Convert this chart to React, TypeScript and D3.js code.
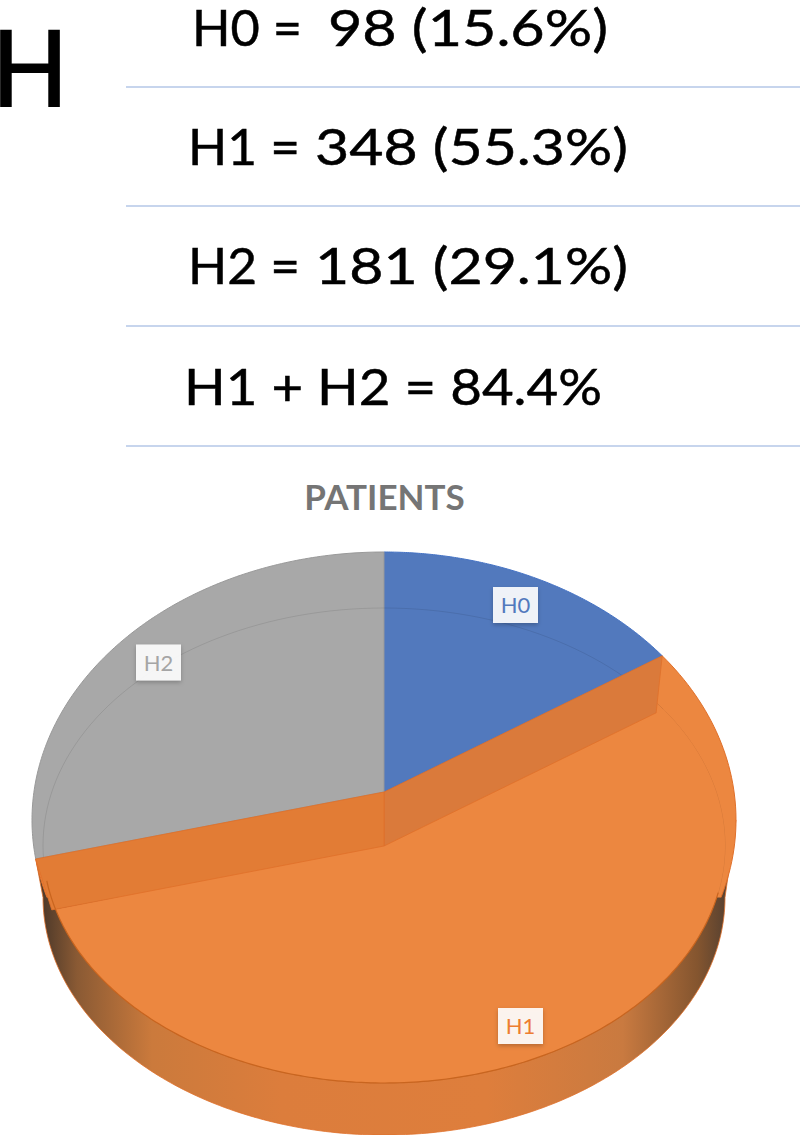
import React from "react";
import * as d3 from "d3";

const categories = ["H0", "H1", "H2"];
const shares = [15.6, 55.3, 29.1];
const counts = [98, 348, 181];
const rowLeft = ["H0 =", "H1 =", "H2 ="];
const rowRight = ["98 (15.6%)", "348 (55.3%)", "181 (29.1%)"];
const summaryText = "H1 + H2 = 84.4%";
const panelLetter = "H";
const chartTitle = "PATIENTS";

const FONT = "Lato, 'Open Sans', sans-serif";
const BLUE = "#5279BD";
const ORANGE = "#EC8740";
const GRAY = "#A8A8A8";
const CX = 384;
const K = 1.37;

type Geo = { py: number; ey: number; rx: number; ry: number };
const outer: Geo = { py: 792, ey: 820, rx: 352, ry: 268 };
const top1: Geo = { py: 846, ey: 845.5, rx: 341, ry: 237.5 };

const pie = d3.pie<number>().sort(null)(shares);

function ray(a: number, g: Geo): [number, number] {
  const dx = Math.sin(a) * K;
  const dy = -Math.cos(a);
  const o = g.py - g.ey;
  const A = (dx * dx) / (g.rx * g.rx) + (dy * dy) / (g.ry * g.ry);
  const B = (2 * o * dy) / (g.ry * g.ry);
  const C = (o * o) / (g.ry * g.ry) - 1;
  const t = (-B + Math.sqrt(B * B - 4 * A * C)) / (2 * A);
  return [CX + dx * t, g.py + dy * t];
}
const line = d3.line<[number, number]>();
function arcPts(a0: number, a1: number, g: Geo): [number, number][] {
  const s = d3.scaleLinear().domain([0, 150]).range([a0, a1]);
  return d3.range(151).map((i) => ray(s(i), g));
}
function slice(a0: number, a1: number, g: Geo): string {
  return line([[CX, g.py], ...arcPts(a0, a1, g)])! + "Z";
}
function ellipsePts(cy: number, rx: number, ry: number, t0: number, t1: number): [number, number][] {
  const s = d3.scaleLinear().domain([0, 200]).range([t0, t1]);
  return d3.range(201).map((i) => [CX + rx * Math.cos(s(i)), cy + ry * Math.sin(s(i))] as [number, number]);
}

const [p0, p1, p2] = pie;
function wall(angle: number, shrink: number): string {
  const c = ray(angle, outer);
  const inner: [number, number] = [
    CX + (c[0] - CX) * shrink,
    top1.py + (c[1] - outer.py) * shrink,
  ];
  return line([[CX, outer.py], c, inner, [CX, top1.py]])! + "Z";
}
const wallRight = wall(p1.startAngle, 0.978);
const wallLeft = wall(p1.endAngle, 0.954);
const RIM = 52;
const rimY = top1.ey + RIM;
const rim = line([
  [CX + outer.rx, outer.ey],
  ...ellipsePts(rimY, top1.rx, top1.ry, 0, Math.PI),
  ray(p1.endAngle, outer),
])! + "Z";

const labelPos: Record<string, [number, number, string]> = {
  H0: [515.5, 605, BLUE],
  H1: [520.5, 1026, "#ED7D31"],
  H2: [158.5, 662.5, "#A5A5A5"],
};
const rowsY = [46, 165, 284];
const leftX = [192, 188, 188];
const leftLen = [110, 112, 112];
const rightX = [328, 315, 315];
const rightLen = [280, 313, 313];
const rules = [87, 206, 326, 446];

export default function App() {
  return (
    <svg width={800} height={1135} viewBox="0 0 800 1135"
      style={{ position: "absolute", left: 0, top: 0, background: "#fff" }} fontFamily={FONT}>
      <defs>
        <linearGradient id="rimG" gradientUnits="userSpaceOnUse" x1={43} x2={725} y1={0} y2={0}>
          <stop offset="0" stopColor="#4f3a2a" />
          <stop offset="0.05" stopColor="#8a5a34" />
          <stop offset="0.16" stopColor="#CB7A3C" />
          <stop offset="0.35" stopColor="#DC7D3C" />
          <stop offset="0.65" stopColor="#DE7E3C" />
          <stop offset="0.85" stopColor="#C97A40" />
          <stop offset="0.96" stopColor="#84552F" />
          <stop offset="1" stopColor="#5a4230" />
        </linearGradient>
        <clipPath id="aboveRim">
          <rect x={0} y={0} width={800} height={rimY} />
        </clipPath>
        <filter id="sh" x="-20%" y="-20%" width="140%" height="140%">
          <feDropShadow dx="0" dy="2" stdDeviation="2" floodColor="#000" floodOpacity="0.25" />
        </filter>
      </defs>

      <text x={-8} y={106} fontSize={104} fill="#000" stroke="#000" strokeWidth={2}
        textLength={76} lengthAdjust="spacingAndGlyphs">{panelLetter}</text>
      {rules.map((y) => (
        <line key={y} x1={126} x2={800} y1={y} y2={y} stroke="#B4C7E7" strokeWidth={1.5} />
      ))}
      {rowLeft.map((t, i) => (
        <g key={t} fontSize={51} fill="#000" stroke="#000" strokeWidth={0.5}>
          <text x={leftX[i]} y={rowsY[i]} textLength={leftLen[i]} lengthAdjust="spacingAndGlyphs">{t}</text>
          <text x={rightX[i]} y={rowsY[i]} textLength={rightLen[i]} lengthAdjust="spacingAndGlyphs">{rowRight[i]}</text>
        </g>
      ))}
      <text x={184} y={405} fontSize={51} fill="#000" stroke="#000" strokeWidth={0.5}
        textLength={418} lengthAdjust="spacingAndGlyphs">{summaryText}</text>
      <text x={384.5} y={510} fontSize={35} fontWeight={700} fill="#757575" textAnchor="middle">{chartTitle}</text>

      <path d={rim} fill="url(#rimG)" stroke="#E0702A" strokeWidth={0.8} />
      <path d={slice(p1.startAngle, p1.endAngle, outer)} fill={ORANGE} stroke="#E0702A" strokeWidth={1} clipPath="url(#aboveRim)" />
      <path d={slice(p0.startAngle, p0.endAngle, outer)} fill={BLUE} stroke="#4472C4" strokeWidth={1} />
      <path d={slice(p2.startAngle, p2.endAngle, outer)} fill={GRAY} stroke="#999" strokeWidth={1} />
      <path d={line(ellipsePts(top1.ey, top1.rx, top1.ry, 0, Math.PI * 2))! + "Z"} fill="none" stroke="#000" strokeOpacity={0.09} strokeWidth={1} />
      <path d={slice(p1.startAngle, p1.endAngle, top1)} fill={ORANGE} stroke="none" />
      <path d={wallRight} fill="#DA7A3B" stroke="#E0702A" strokeWidth={0.8} />
      <path d={wallLeft} fill="#E27C35" stroke="#E0702A" strokeWidth={0.8} />
      <path d={line(ellipsePts(top1.ey, top1.rx, top1.ry, 0.2, Math.PI - 0.15))!} fill="none" stroke="#C9651F" strokeWidth={1.2} />

      {categories.map((c, i) => {
        const [x, y, col] = labelPos[c];
        return (
          <g key={c} data-count={counts[i]}>
            <rect x={x - 22.5} y={y - 18} width={45} height={36} fill="#fff" fillOpacity={0.9} filter="url(#sh)" />
            <text x={x} y={y + 8} textAnchor="middle" fontSize={22} fill={col}>{c}</text>
          </g>
        );
      })}
    </svg>
  );
}
